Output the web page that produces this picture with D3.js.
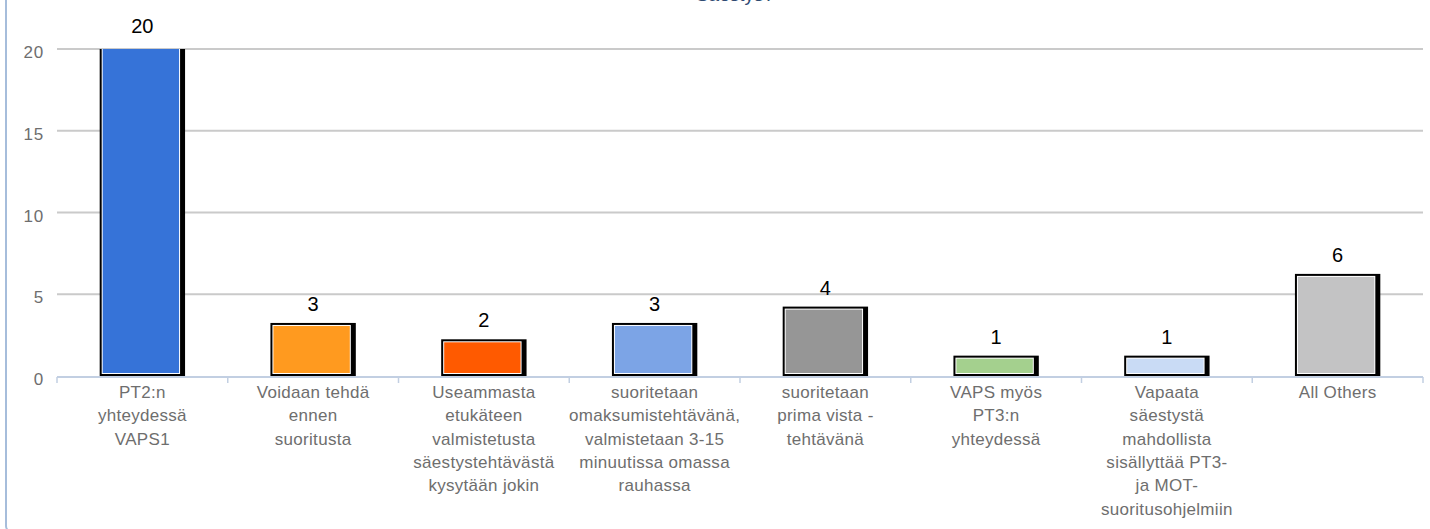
<!DOCTYPE html>
<html>
<head>
<meta charset="utf-8">
<script src="https://cdn.jsdelivr.net/npm/d3@7"></script>
<style>
  body { margin: 0; background: #fff; }
  svg { display: block; font-family: "Liberation Sans", Arial, sans-serif; }
</style>
</head>
<body>
<div id="chart"></div>
<script>
// Chart data
var categories = [
  "PT2:n\nyhteydessä\nVAPS1",
  "Voidaan tehdä\nennen\nsuoritusta",
  "Useammasta\netukäteen\nvalmistetusta\nsäestystehtävästä\nkysytään jokin",
  "suoritetaan\nomaksumistehtävänä,\nvalmistetaan 3-15\nminuutissa omassa\nrauhassa",
  "suoritetaan\nprima vista -\ntehtävänä",
  "VAPS myös\nPT3:n\nyhteydessä",
  "Vapaata\nsäestystä\nmahdollista\nsisällyttää PT3-\nja MOT-\nsuoritusohjelmiin",
  "All Others"
];
var values = [20, 3, 2, 3, 4, 1, 1, 6];
var colors = ["#3673d8", "#ff9a1f", "#ff5a00", "#7ca4e6", "#969696", "#a4d08e", "#c9dbf5", "#c3c3c4"];
var yTicks = [0, 5, 10, 15, 20];
var title = "Säestys?";

var W = 1430, H = 529;
var svg = d3.select("#chart").append("svg")
    .attr("width", W)
    .attr("height", H);

// Outer frame (only left edge shows)
svg.append("rect")
    .attr("x", 6).attr("y", -20)
    .attr("width", W + 40).attr("height", 551)
    .attr("rx", 5)
    .attr("fill", "none")
    .attr("stroke", "#a6bddb")
    .attr("stroke-width", 2);

// Title, mostly cut off at top
svg.append("text")
    .attr("x", 735).attr("y", 1)
    .attr("text-anchor", "middle")
    .attr("fill", "#2f4a72")
    .style("font-size", "19px")
    .text(title);

var x = d3.scaleBand()
    .domain(d3.range(categories.length))
    .range([57, 1423])
    .paddingInner(0)
    .paddingOuter(0);

var y = d3.scaleLinear()
    .domain([0, 20])
    .range([376, 49]);

// Grid lines
svg.append("g").selectAll("line")
    .data(yTicks.filter(function (d) { return d > 0; }))
    .enter().append("line")
    .attr("x1", 57).attr("x2", 1423)
    .attr("y1", function (d) { return y(d); })
    .attr("y2", function (d) { return y(d); })
    .attr("stroke", "#cacaca")
    .attr("stroke-width", 2);

// Y tick labels
svg.append("g").selectAll("text")
    .data(yTicks)
    .enter().append("text")
    .attr("x", 44)
    .attr("y", function (d) { return y(d) + 9; })
    .attr("text-anchor", "end")
    .attr("fill", "#6e6e6e")
    .style("font-size", "17px")
    .style("letter-spacing", "0.8px")
    .text(function (d) { return d; });

// Bars
svg.append("clipPath").attr("id", "plot")
    .append("rect")
    .attr("x", 57).attr("y", y(20))
    .attr("width", 1366).attr("height", y(0) - y(20) + 2);

var bw = x.bandwidth() / 2;
var bars = svg.append("g").attr("clip-path", "url(#plot)")
    .selectAll("g.bar")
    .data(values)
    .enter().append("g")
    .classed("bar", true)
    .attr("transform", function (d, i) {
        return "translate(" + (x(i) + x.bandwidth() / 2 - bw / 2) + ",0)";
    });

bars.append("rect")
    .attr("x", 0)
    .attr("y", function (d) { return y(d) - 4; })
    .attr("width", bw)
    .attr("height", function (d) { return y(0) - y(d) + 4; })
    .attr("fill", "#000");

bars.append("rect")
    .attr("x", 2)
    .attr("y", function (d) { return y(d) - 2; })
    .attr("width", bw - 7)
    .attr("height", function (d) { return y(0) - y(d); })
    .attr("fill", "#fff");

bars.append("rect")
    .attr("x", 3)
    .attr("y", function (d) { return y(d) - 1; })
    .attr("width", bw - 9)
    .attr("height", function (d) { return y(0) - y(d) - 2; })
    .attr("fill", function (d, i) { return colors[i]; });

// Value labels
svg.append("g").selectAll("text")
    .data(values)
    .enter().append("text")
    .attr("x", function (d, i) { return x(i) + x.bandwidth() / 2; })
    .attr("y", function (d) { return y(d) - 16; })
    .attr("text-anchor", "middle")
    .attr("fill", "#000")
    .style("font-size", "20px")
    .text(function (d) { return d; });

// X axis line and ticks
svg.append("line")
    .attr("x1", 57).attr("x2", 1423)
    .attr("y1", y(0) + 1).attr("y2", y(0) + 1)
    .attr("stroke", "#c2cfe2")
    .attr("stroke-width", 2);

svg.append("g").selectAll("line")
    .data(d3.range(categories.length + 1))
    .enter().append("line")
    .attr("x1", function (i) { return 57 + i * x.step(); })
    .attr("x2", function (i) { return 57 + i * x.step(); })
    .attr("y1", y(0) + 1).attr("y2", y(0) + 7)
    .attr("stroke", "#c2cfe2")
    .attr("stroke-width", 1.5);

// Category labels
var cat = svg.append("g").selectAll("text")
    .data(categories)
    .enter().append("text")
    .attr("text-anchor", "middle")
    .attr("fill", "#6e6e6e")
    .style("font-size", "17px")
    .style("letter-spacing", "0.3px");

cat.each(function (d, i) {
    var t = d3.select(this);
    d.split("\n").forEach(function (line, k) {
        t.append("tspan")
            .attr("x", x(i) + x.bandwidth() / 2)
            .attr("y", 398 + k * 23.3)
            .text(line);
    });
});
</script>
</body>
</html>
